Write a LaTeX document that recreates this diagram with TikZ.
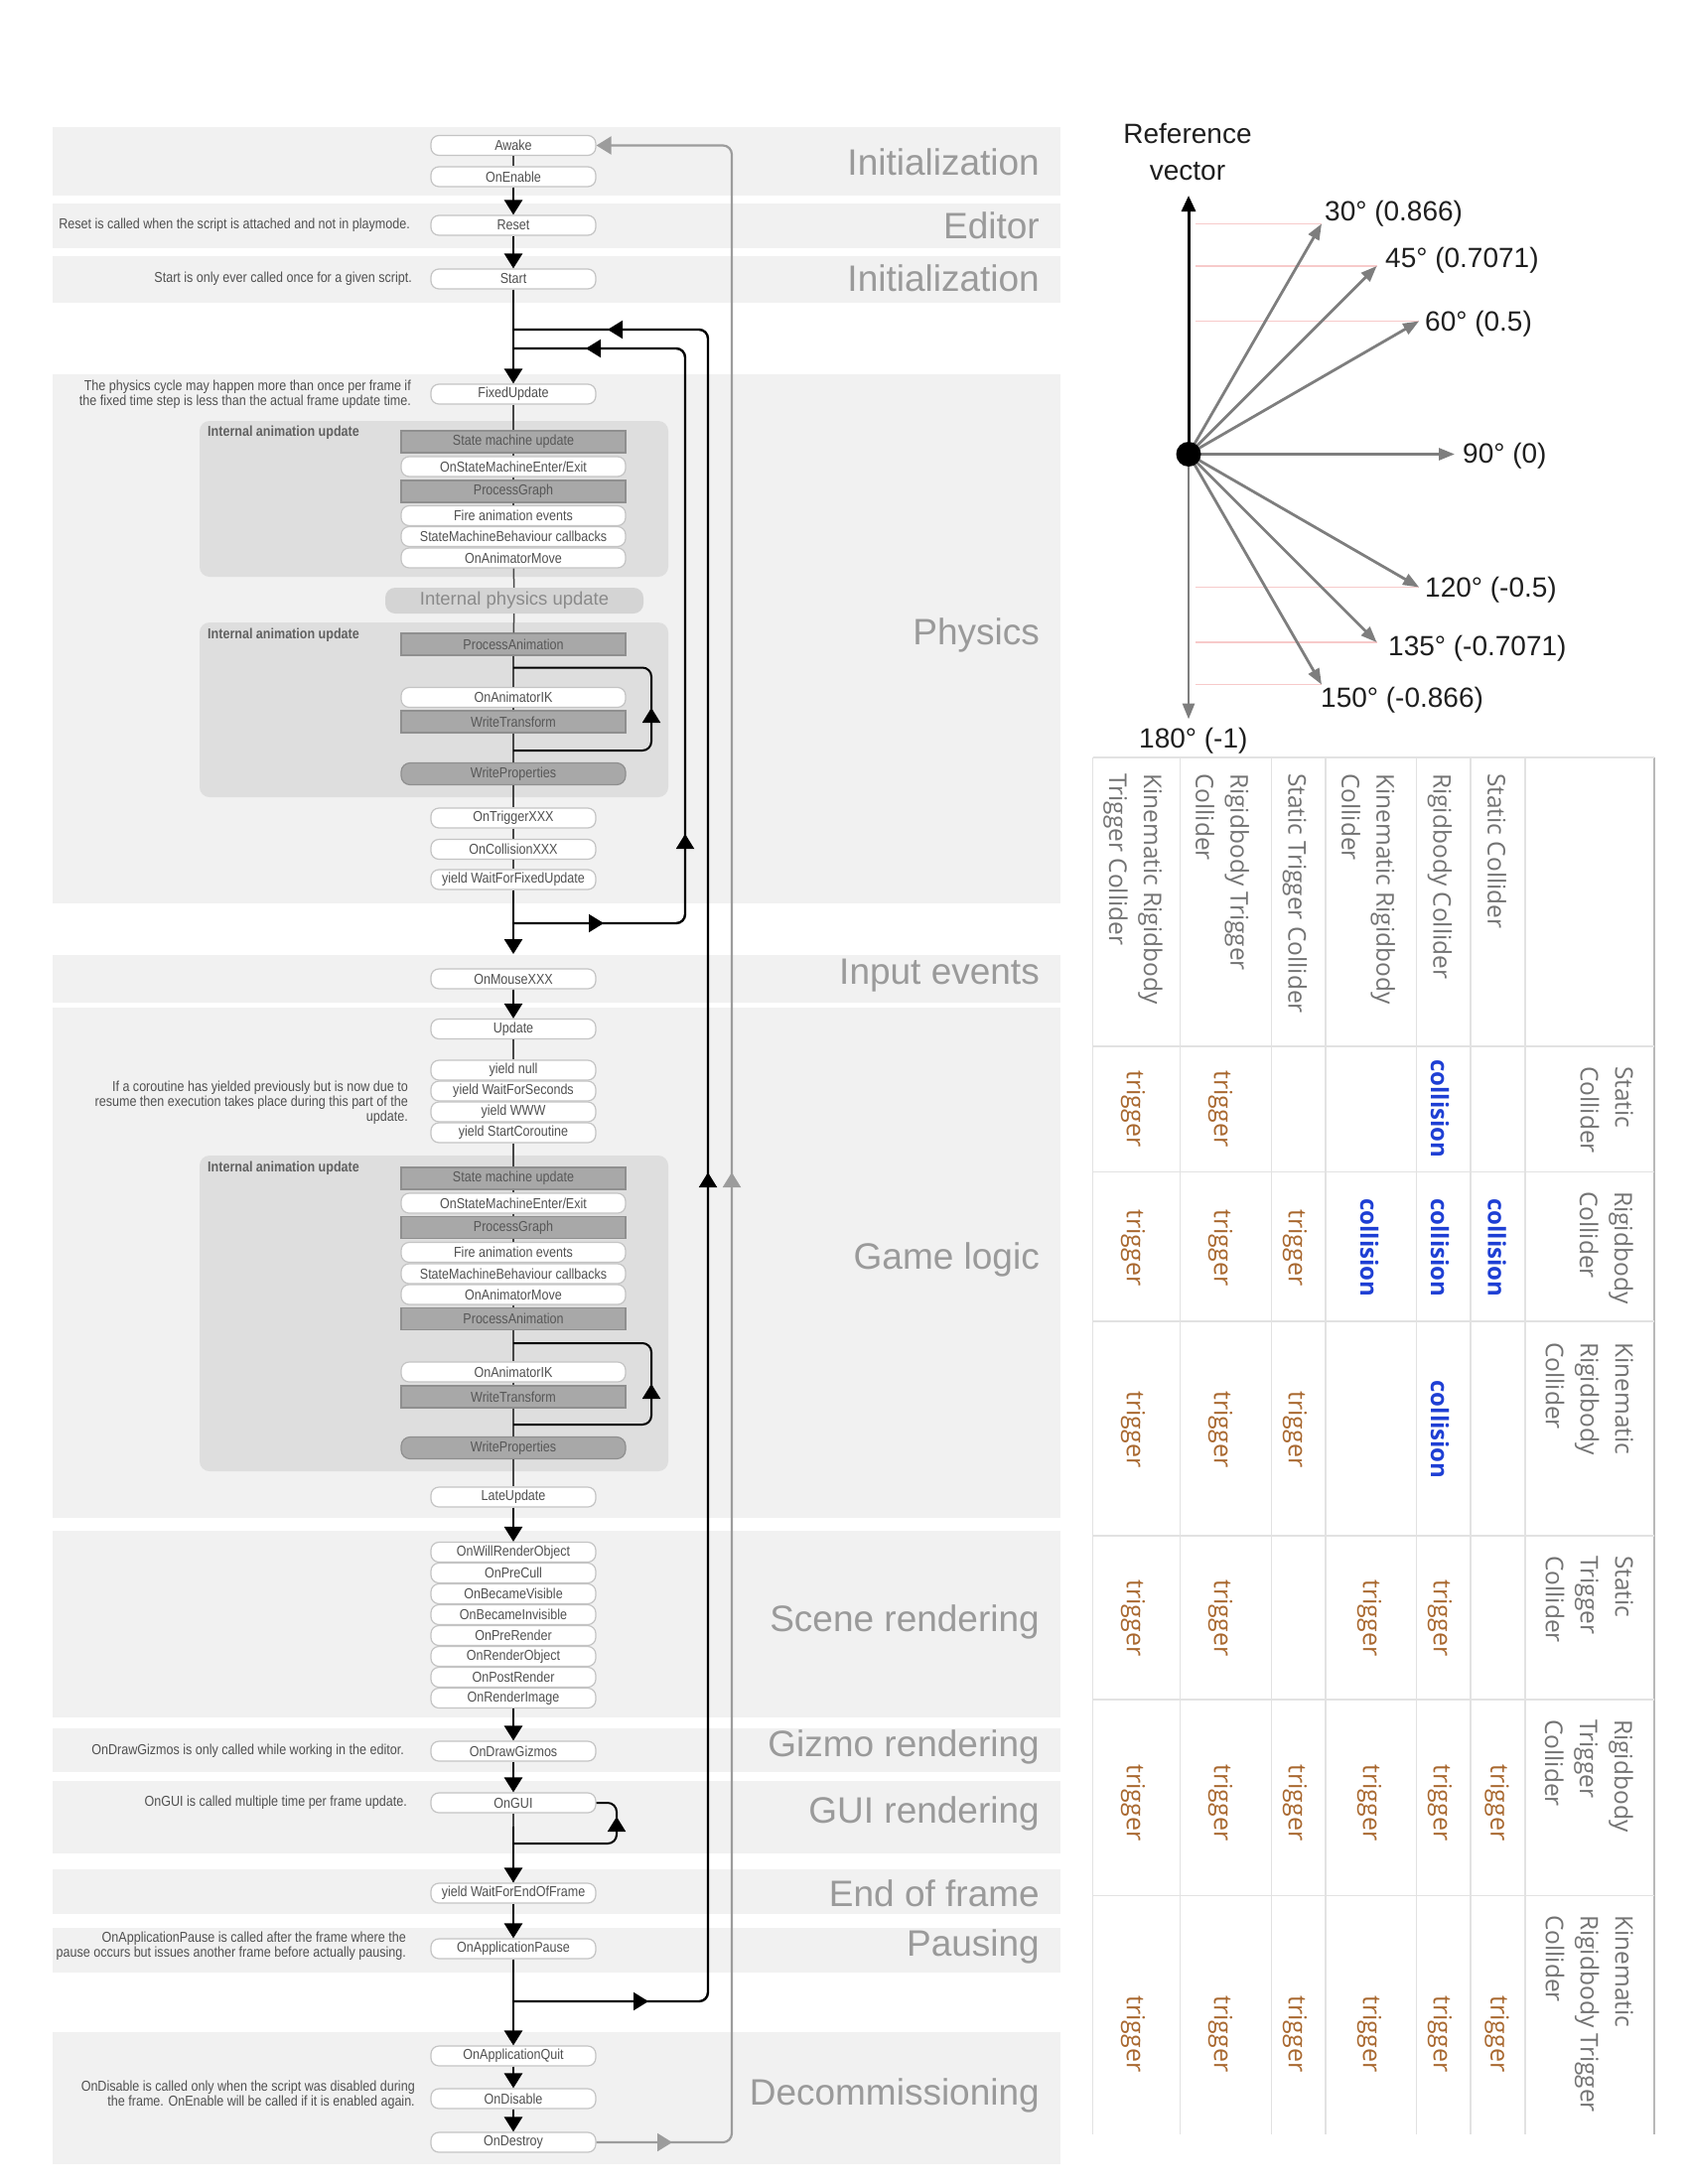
\documentclass[tikz,border=0pt]{standalone}
\usepackage{fontspec}
\setmainfont{Liberation Sans}
\newfontfamily\boxfont[FakeStretch=0.865]{Liberation Sans}
\newfontfamily\tablefont{Open Sans}
\usepackage{tikz}
\usetikzlibrary{arrows.meta}
\definecolor{BandGray}{HTML}{F1F1F1}
\definecolor{PanelGray}{HTML}{DEDEDE}
\definecolor{DarkBox}{HTML}{A8A8A8}
\definecolor{BoxLine}{HTML}{C4C4C4}
\definecolor{NoteText}{HTML}{505050}
\definecolor{BandText}{HTML}{9A9A9A}
\definecolor{ReturnGray}{HTML}{9C9C9C}
\definecolor{VecGray}{HTML}{7E7E7E}
\definecolor{GuidePink}{HTML}{F7CACA}
\definecolor{CollBlue}{HTML}{1E3FD4}
\definecolor{TrigBrown}{HTML}{A8672E}
\definecolor{GridGray}{HTML}{E2E2E2}
\newcommand{\flowfont}{\boxfont\fontsize{14.5}{15}\selectfont}
\newcommand{\midtip}[3][black]{\draw[draw=#1, line width=2pt, -{Triangle[width=18pt,length=15pt]}] #2 -- #3;}

\begin{document}
\begin{tikzpicture}[x=1pt, y=-1pt,
		wbox/.style={draw=BoxLine, line width=1.2pt, fill=white, rounded corners=8pt, minimum width=166pt, minimum height=20pt, inner sep=0pt, text=NoteText, font=\flowfont},
		ibox/.style={wbox, minimum width=226pt},
		dbox/.style={ibox, fill=DarkBox, draw=DarkBox!85!black, rounded corners=0pt, minimum height=22pt, text=black!66},
		pill/.style={fill=black!17, rounded corners=10pt, minimum width=260pt, minimum height=26pt, inner sep=0pt, text=black!46, font=\fontsize{18.5}{20}\selectfont},
		bandlabel/.style={anchor=east, inner sep=0pt, text=BandText, font=\fontsize{37}{37}\selectfont},
		note/.style={anchor=east, align=right, inner sep=0pt, text=NoteText, font=\flowfont},
		paneltitle/.style={anchor=west, inner sep=0pt, text=black!62, font=\boxfont\bfseries\fontsize{14.5}{15}\selectfont},
		link/.style={draw=black!72, line width=1.5pt},
		flow/.style={draw=black, line width=2.6pt, -{Triangle[width=18pt,length=15pt]}},
		loopline/.style={draw=black, line width=2.4pt, rounded corners=9pt},
		retline/.style={draw=ReturnGray, line width=2.2pt, rounded corners=9pt},
		vecline/.style={draw=VecGray, line width=2.8pt, -{Triangle[width=12pt,length=16pt]}},
		guide/.style={draw=GuidePink, line width=1.3pt},
		anglelabel/.style={anchor=west, inner sep=0pt, text=black!88, font=\fontsize{28}{28}\selectfont},
		tablegrid/.style={draw=GridGray, line width=1.2pt},
		thead/.style={rotate=-90, align=left, inner sep=0pt, text=black!55, font=\tablefont\fontsize{24.5}{35}\selectfont},
		collision/.style={rotate=-90, inner sep=0pt, text=CollBlue, font=\tablefont\bfseries\fontsize{24}{24}\selectfont},
		trigger/.style={rotate=-90, inner sep=0pt, text=TrigBrown, font=\tablefont\fontsize{25}{25}\selectfont}]
	\useasboundingbox (0,0) rectangle (1700,2200);

	% bands
	\foreach \ya/\yb in {128/197,205/250,258/305,377/910,962/1010,1015/1529,1542/1730,1741/1785,1794/1867,1883/1928,1942/1987,2047/2180}
		\fill[BandGray] (53,\ya) rectangle (1068,\yb);
	\node[bandlabel] (bInit) at (1047,163) {Initialization};
	\node[bandlabel] (bEditor) at (1047,227) {Editor};
	\node[bandlabel] (bStart) at (1047,280.5) {Initialization};
	\node[bandlabel] (bPhysics) at (1047,640) {Physics};
	\node[bandlabel] (bInput) at (1047,983) {Input events};
	\node[bandlabel] (bGame) at (1047,1269) {Game logic};
	\node[bandlabel] (bScene) at (1047,1634) {Scene rendering};
	\node[bandlabel] (bGizmo) at (1047,1760) {Gizmo rendering};
	\node[bandlabel] (bGUI) at (1047,1827) {GUI rendering};
	\node[bandlabel] (bEnd) at (1047,1907.5) {End of frame};
	\node[bandlabel] (bPause) at (1047,1961) {Pausing};
	\node[bandlabel] (bDecom) at (1047,2111) {Decommissioning};

	% animation panels
	\fill[PanelGray, rounded corners=10pt] (201,424) rectangle (673,581);
	\fill[PanelGray, rounded corners=10pt] (201,627) rectangle (673,803);
	\fill[PanelGray, rounded corners=10pt] (201,1164) rectangle (673,1482);
	\node[paneltitle] (tPhysA) at (209,436) {Internal animation update};
	\node[paneltitle] (tPhysB) at (209,640) {Internal animation update};
	\node[paneltitle] (tGame) at (209,1177) {Internal animation update};

	% initialization
	\node[wbox] (awake) at (517,146.5) {Awake};
	\node[wbox] (onenable) at (517,178) {OnEnable};
	\node[wbox] (reset) at (517,227) {Reset};
	\node[wbox] (start) at (517,281) {Start};

	% physics
	\node[wbox] (fixedupdate) at (517,397) {FixedUpdate};
	\node[dbox] (smu1) at (517,445) {State machine update};
	\node[ibox] (osm1) at (517,470) {OnStateMachineEnter/Exit};
	\node[dbox] (pg1) at (517,495) {ProcessGraph};
	\node[ibox] (fae1) at (517,519.5) {Fire animation events};
	\node[ibox] (smb1) at (517,540.5) {StateMachineBehaviour callbacks};
	\node[ibox] (oam1) at (517,562) {OnAnimatorMove};
	\node[pill] (physupd) at (518,605) {Internal physics update};
	\node[dbox] (pa2) at (517,649) {ProcessAnimation};
	\node[ibox] (ik2) at (517,702.5) {OnAnimatorIK};
	\node[dbox] (wt2) at (517,727) {WriteTransform};
	\node[dbox, rounded corners=9pt] (wp2) at (517,779.5) {WriteProperties};
	\node[wbox] (ontrigger) at (517,824) {OnTriggerXXX};
	\node[wbox] (oncollision) at (517,855.5) {OnCollisionXXX};
	\node[wbox] (waitfixed) at (517,886) {yield WaitForFixedUpdate};

	% input and game logic
	\node[wbox] (onmouse) at (517,986) {OnMouseXXX};
	\node[wbox] (update) at (517,1036.5) {Update};
	\node[wbox] (yieldnull) at (517,1078) {yield null};
	\node[wbox] (waitsec) at (517,1099) {yield WaitForSeconds};
	\node[wbox] (yieldwww) at (517,1120) {yield WWW};
	\node[wbox] (startcor) at (517,1141) {yield StartCoroutine};
	\node[dbox] (smu3) at (517,1187) {State machine update};
	\node[ibox] (osm3) at (517,1212) {OnStateMachineEnter/Exit};
	\node[dbox] (pg3) at (517,1236.5) {ProcessGraph};
	\node[ibox] (fae3) at (517,1261.5) {Fire animation events};
	\node[ibox] (smb3) at (517,1283) {StateMachineBehaviour callbacks};
	\node[ibox] (oam3) at (517,1304) {OnAnimatorMove};
	\node[dbox] (pa3) at (517,1328.5) {ProcessAnimation};
	\node[ibox] (ik3) at (517,1382) {OnAnimatorIK};
	\node[dbox] (wt3) at (517,1407) {WriteTransform};
	\node[dbox, rounded corners=9pt] (wp3) at (517,1458.5) {WriteProperties};
	\node[wbox] (lateupdate) at (517,1508) {LateUpdate};

	% rendering
	\node[wbox] (willrender) at (517,1563.5) {OnWillRenderObject};
	\node[wbox] (precull) at (517,1584.5) {OnPreCull};
	\node[wbox] (becamevis) at (517,1605.5) {OnBecameVisible};
	\node[wbox] (becameinv) at (517,1626.5) {OnBecameInvisible};
	\node[wbox] (prerender) at (517,1647.5) {OnPreRender};
	\node[wbox] (renderobj) at (517,1668.5) {OnRenderObject};
	\node[wbox] (postrender) at (517,1689.5) {OnPostRender};
	\node[wbox] (renderimg) at (517,1710.5) {OnRenderImage};
	\node[wbox] (drawgizmos) at (517,1764) {OnDrawGizmos};
	\node[wbox] (ongui) at (517,1816) {OnGUI};
	\node[wbox] (waitend) at (517,1907) {yield WaitForEndOfFrame};
	\node[wbox] (apppause) at (517,1963) {OnApplicationPause};
	\node[wbox] (appquit) at (517,2071) {OnApplicationQuit};
	\node[wbox] (ondisable) at (517,2114) {OnDisable};
	\node[wbox] (ondestroy) at (517,2158) {OnDestroy};

	% notes
	\node[note] (nReset) at (413,227) {Reset is called when the script is attached and not in playmode.};
	\node[note] (nStart) at (415,281) {Start is only ever called once for a given script.};
	\node[note] (nPhys) at (414,397.5) {The physics cycle may happen more than once per frame if\\the fixed time step is less than the actual frame update time.};
	\node[note] (nCoroutine) at (411,1111) {If a coroutine has yielded previously but is now due to\\resume then execution takes place during this part of the\\update.};
	\node[note] (nGizmo) at (407,1764) {OnDrawGizmos is only called while working in the editor.};
	\node[note] (nGUI) at (410,1816) {OnGUI is called multiple time per frame update.};
	\node[note] (nPause) at (409,1960.5) {OnApplicationPause is called after the frame where the\\pause occurs but issues another frame before actually pausing.};
	\node[note] (nDisable) at (418,2110) {OnDisable is called only when the script was disabled during\\the frame. OnEnable will be called if it is enabled again.};

	% thin links
	\foreach \a/\b in {awake/onenable, fixedupdate/smu1, smu1/osm1, osm1/pg1, pg1/fae1, oam1/physupd, physupd/pa2, pa2/ik2, ik2/wt2, wt2/wp2, wp2/ontrigger, ontrigger/oncollision, oncollision/waitfixed,
		update/yieldnull, startcor/smu3, smu3/osm3, osm3/pg3, pg3/fae3, oam3/pa3, pa3/ik3, ik3/wt3, wt3/wp3, wp3/lateupdate, ongui/waitend}
		\draw[link] (\a) -- (\b);

	% main flow arrows
	\coordinate (inputgap) at (517,961);
	\foreach \a/\b in {onenable/reset, reset/start, start/fixedupdate, waitfixed/inputgap, onmouse/update, lateupdate/willrender, renderimg/drawgizmos, drawgizmos/ongui, waitend/apppause, apppause/appquit, appquit/ondisable, ondisable/ondestroy}
		\draw[flow] (\a) -- (\b);
	\draw[flow] (517,1840) -- (waitend);

	% frame loop
	\coordinate (physin1) at (517,332);
	\coordinate (physin2) at (517,351);
	\coordinate (physout) at (517,930);
	\coordinate (frameout) at (517,2016);
	\coordinate (outerTop) at (713,332);
	\coordinate (innerTop) at (690,351);
	\draw[loopline] (frameout) -| (outerTop) -- (physin1);
	\draw[loopline] (physout) -| (innerTop) -- (physin2);
	\midtip{(633,2016)}{(653,2016)}
	\midtip{(713,1201)}{(713,1181)}
	\midtip{(632,332)}{(612,332)}
	\midtip{(588,930)}{(608,930)}
	\midtip{(690,860)}{(690,840)}
	\midtip{(610,351)}{(590,351)}

	% IK loops
	\coordinate (ik2in) at (517,672.5);
	\coordinate (wt2out) at (517,756);
	\coordinate (loop2R) at (656,672.5);
	\draw[loopline, line width=2pt] (wt2out) -| (loop2R) -- (ik2in);
	\midtip{(656,733)}{(656,713)}
	\coordinate (ik3in) at (517,1353);
	\coordinate (wt3out) at (517,1435);
	\coordinate (loop3R) at (656,1353);
	\draw[loopline, line width=2pt] (wt3out) -| (loop3R) -- (ik3in);
	\midtip{(656,1414)}{(656,1394)}

	% OnGUI loop
	\coordinate (guiout) at (517,1857);
	\coordinate (guiR) at (621,1816);
	\draw[loopline, line width=2pt] (guiout) -| (guiR) -- (ongui.east);
	\midtip{(621,1850)}{(621,1830)}

	% return to Awake
	\coordinate (retTop) at (737,146.5);
	\draw[retline, -{Triangle[width=18pt,length=15pt]}] (ondestroy.east) -| (retTop) -- (awake.east);
	\midtip[ReturnGray]{(657,2158)}{(677,2158)}
	\midtip[ReturnGray]{(737,1201)}{(737,1181)}

	% reference vector diagram
	\coordinate (orig) at (1197,457.5);
	\node[align=center, inner sep=0pt, text=black!88, font=\fontsize{28}{37}\selectfont] (refvec) at (1196,153) {Reference\\vector};
	\coordinate (refTip) at (1197,197);
	\coordinate (downTip) at (1197,724.5);
	\foreach \a in {30,45,60,90,120,135,150}
		\coordinate (v\a) at ({1197+268*sin(\a)},{457.5-268*cos(\a)});
	\foreach \a in {30,45,60,120,135,150}
		\draw[guide] (1204,{457.5-268*cos(\a)}) -- (v\a);
	\foreach \a in {30,45,60,90,120,135,150}
		\draw[vecline] (orig) -- (v\a);
	\draw[vecline] (orig) -- (downTip);
	\draw[line width=3pt, -{Triangle[width=14pt,length=16pt]}] (orig) -- (refTip);
	\node[circle, fill=black, minimum size=25pt, inner sep=0pt] (origDot) at (orig) {};
	\node[anglelabel] (l30) at (1334,215) {30° (0.866)};
	\node[anglelabel] (l45) at (1395,262.5) {45° (0.7071)};
	\node[anglelabel] (l60) at (1435,326) {60° (0.5)};
	\node[anglelabel] (l90) at (1473,459) {90° (0)};
	\node[anglelabel] (l120) at (1435,594) {120° (-0.5)};
	\node[anglelabel] (l135) at (1398,653) {135° (-0.7071)};
	\node[anglelabel] (l150) at (1330,705) {150° (-0.866)};
	\node[anglelabel] (l180) at (1147,746) {180° (-1)};

	% collision table (turned)
	\foreach \x in {1100.7,1188.7,1280.6,1335,1426.8,1481,1536}
		\draw[tablegrid] (\x,763) -- (\x,2150);
	\draw[draw=black!28, line width=1.4pt] (1666,763) -- (1666,2150);
	\foreach \y in {763,1054,1180.6,1331,1547,1712,1909.5}
		\draw[tablegrid] (1100.7,\y) -- (1666,\y);
	\node[thead, anchor=west] (rA) at (1507.5,779) {Static Collider};
	\node[thead, anchor=west] (rB) at (1450,779) {Rigidbody Collider};
	\node[thead, anchor=west] (rC) at (1378,779) {Kinematic Rigidbody\\Collider};
	\node[thead, anchor=west] (rD) at (1304,779) {Static Trigger Collider};
	\node[thead, anchor=west] (rE) at (1231,779) {Rigidbody Trigger\\Collider};
	\node[thead, anchor=west] (rF) at (1141,779) {Kinematic Rigidbody\\Trigger Collider};
	\node[thead, anchor=north west] (c1) at (1645,1074) {Static\\Collider};
	\node[thead, anchor=north west] (c2) at (1645,1200) {Rigidbody\\Collider};
	\node[thead, anchor=north west] (c3) at (1645,1352) {Kinematic\\Rigidbody\\Collider};
	\node[thead, anchor=north west] (c4) at (1645,1567) {Static\\Trigger\\Collider};
	\node[thead, anchor=north west] (c5) at (1645,1732) {Rigidbody\\Trigger\\Collider};
	\node[thead, anchor=north west] (c6) at (1645,1929) {Kinematic\\Rigidbody Trigger\\Collider};
	\foreach \n/\x/\y/\kind in {B1/1450/1117/collision, E1/1229/1117/trigger, F1/1141/1117/trigger,
		A2/1507.5/1257/collision, B2/1450/1257/collision, C2/1379/1257/collision, D2/1304/1257/trigger, E2/1229/1257/trigger, F2/1141/1257/trigger,
		B3/1450/1440/collision, D3/1304/1440/trigger, E3/1229/1440/trigger, F3/1141/1440/trigger,
		B4/1450/1630/trigger, C4/1379/1630/trigger, E4/1229/1630/trigger, F4/1141/1630/trigger,
		A5/1507.5/1816/trigger, B5/1450/1816/trigger, C5/1379/1816/trigger, D5/1304/1816/trigger, E5/1229/1816/trigger, F5/1141/1816/trigger,
		A6/1507.5/2049/trigger, B6/1450/2049/trigger, C6/1379/2049/trigger, D6/1304/2049/trigger, E6/1229/2049/trigger, F6/1141/2049/trigger}
		\node[\kind] (cell\n) at (\x,\y) {\kind};
\end{tikzpicture}
\end{document}
